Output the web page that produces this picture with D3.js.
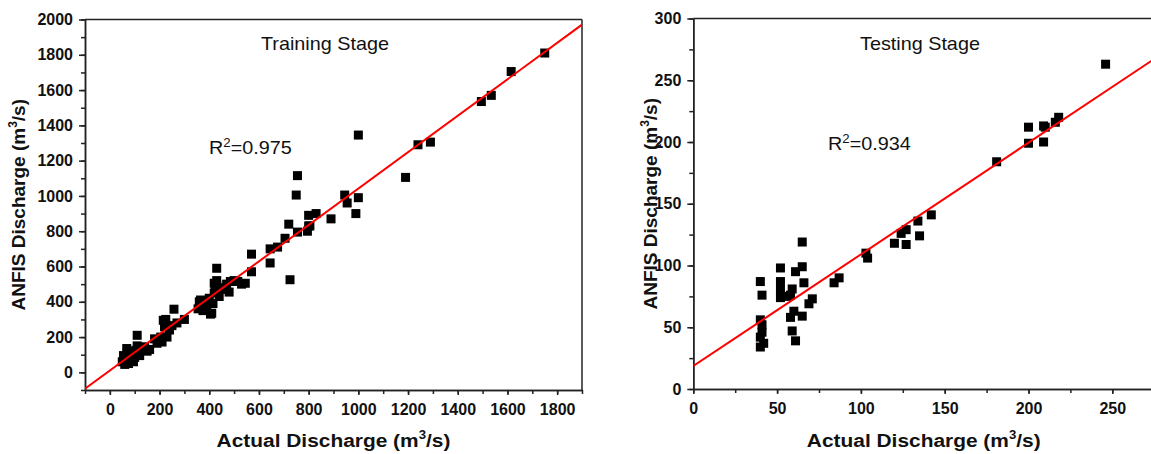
<!DOCTYPE html>
<html lang="en">
<head>
<meta charset="UTF-8">
<title>ANFIS Discharge - Training and Testing</title>
<script src="https://d3js.org/d3.v7.min.js"></script>
<style>
  body { margin: 0; background: #fff; }
  svg text { font-family: Arial, "Liberation Sans", sans-serif; fill: #111; }
</style>
</head>
<body>
<div class="canvas"></div>
<script>
// [actual, ANFIS] pairs
const trainingPoints = [
  [50, 60], [55, 95], [60, 45], [65, 80], [68, 135], [70, 110], [75, 50], [80, 70],
  [85, 100], [90, 120], [95, 60], [100, 85], [105, 125], [110, 210], [110, 150],
  [120, 95], [130, 140], [140, 145], [150, 120], [160, 130],
  [180, 190], [190, 165], [200, 180], [205, 200], [210, 172], [215, 295], [220, 258],
  [225, 300], [230, 200], [240, 240], [250, 265], [258, 358], [270, 280], [300, 300],
  [355, 360], [360, 400], [365, 410], [375, 350], [390, 380], [400, 420], [405, 330],
  [410, 335], [415, 390], [420, 450], [420, 505], [425, 470], [430, 590], [430, 520],
  [430, 495], [440, 430], [450, 470], [460, 480], [470, 500], [480, 455], [485, 515],
  [500, 520], [515, 515], [530, 500], [545, 505],
  [570, 670], [570, 570], [645, 620], [645, 700], [675, 710], [705, 760], [720, 840],
  [725, 525], [750, 1005], [755, 1115], [755, 795], [795, 800], [800, 830], [800, 890],
  [805, 830], [830, 900], [890, 870], [945, 1005], [955, 960], [990, 900], [1000, 990],
  [1000, 1345],
  [1190, 1105], [1240, 1290], [1290, 1305], [1495, 1535], [1535, 1570], [1615, 1705],
  [1750, 1810]
];

const testingPoints = [
  [40, 87], [41, 76], [40, 56], [41, 52], [41, 46], [40, 42], [42, 37], [40, 34],
  [52, 98], [52, 87], [52, 80], [52, 74], [56, 75], [58, 76], [59, 81], [61, 95],
  [65, 119], [65, 99], [66, 86], [60, 63], [58, 58], [65, 59], [59, 47], [61, 39],
  [69, 69], [71, 73], [84, 86], [87, 90], [103, 110], [104, 106],
  [120, 118], [124, 126], [127, 117], [127, 129], [134, 136], [135, 124], [142, 141],
  [181, 184], [200, 199], [200, 212], [209, 200], [209, 213], [210, 212], [216, 216],
  [218, 220], [246, 263]
];

// fitted lines: ANFIS = slope * actual + intercept
const trainingFit = { slope: 1.032, intercept: 10 };
const testingFit = { slope: 0.904, intercept: 18.6 };

const trainingXTicks = [0, 200, 400, 600, 800, 1000, 1200, 1400, 1600, 1800];
const trainingYTicks = [0, 200, 400, 600, 800, 1000, 1200, 1400, 1600, 1800, 2000];
const testingXTicks = [0, 50, 100, 150, 200, 250];
const testingYTicks = [0, 50, 100, 150, 200, 250, 300];

const svg = d3.select(".canvas")
  .append("svg")
  .attr("width", 1151)
  .attr("height", 454);

function drawPanel(opts) {
  const x = d3.scaleLinear().domain(opts.xDomain).range([opts.left, opts.right]);
  const y = d3.scaleLinear().domain(opts.yDomain).range([opts.bottom, opts.top]);
  const g = svg.append("g");

  // minor ticks
  const xAxisMinor = d3.axisBottom(x).tickValues(opts.xMinor).tickSize(4).tickFormat("").tickSizeOuter(0);
  const yAxisMinor = d3.axisLeft(y).tickValues(opts.yMinor).tickSize(4).tickFormat("").tickSizeOuter(0);
  g.append("g").attr("transform", `translate(0,${opts.bottom})`).call(xAxisMinor);
  g.append("g").attr("transform", `translate(${opts.left},0)`).call(yAxisMinor);

  const xAxis = d3.axisBottom(x).tickValues(opts.xTicks).tickFormat(d3.format("d"))
    .tickSize(5).tickPadding(9).tickSizeOuter(0);
  const yAxis = d3.axisLeft(y).tickValues(opts.yTicks).tickFormat(d3.format("d"))
    .tickSize(6).tickPadding(6).tickSizeOuter(0);
  const xg = g.append("g").attr("transform", `translate(0,${opts.bottom})`).call(xAxis);
  const yg = g.append("g").attr("transform", `translate(${opts.left},0)`).call(yAxis);

  g.selectAll(".domain, .tick line").attr("stroke", "#222").attr("stroke-width", 1.5);
  [xg, yg].forEach(a => a.selectAll("text")
    .attr("font-size", 16)
    .attr("font-weight", "bold")
    .attr("fill", "#111"));

  // frame top and right
  g.append("line")
    .attr("x1", opts.left).attr("x2", opts.right)
    .attr("y1", opts.top).attr("y2", opts.top)
    .attr("stroke", "#222").attr("stroke-width", 1.5);
  g.append("line")
    .attr("x1", opts.right).attr("x2", opts.right)
    .attr("y1", opts.top).attr("y2", opts.bottom)
    .attr("stroke", "#222").attr("stroke-width", 1.5);

  // points
  const size = 9;
  g.selectAll("rect.pt")
    .data(opts.points)
    .enter()
    .append("rect")
    .attr("class", "pt")
    .attr("x", d => x(d[0]) - size / 2)
    .attr("y", d => y(d[1]) - size / 2)
    .attr("width", size)
    .attr("height", size)
    .attr("fill", "#000");

  // regression line, clipped to the plot box
  const clipId = "clip-" + opts.name;
  svg.append("clipPath").attr("id", clipId)
    .append("rect")
    .attr("x", opts.left).attr("y", opts.top)
    .attr("width", opts.right - opts.left)
    .attr("height", opts.bottom - opts.top);
  const fitLine = d3.line()
    .x(d => x(d))
    .y(d => y(opts.fit.slope * d + opts.fit.intercept));
  g.append("path")
    .datum(opts.xDomain)
    .attr("clip-path", `url(#${clipId})`)
    .attr("fill", "none")
    .attr("stroke", "#ff0000")
    .attr("stroke-width", 2)
    .attr("d", fitLine);

  // annotations
  g.append("text")
    .attr("transform", `translate(${opts.titlePos[0]},${opts.titlePos[1]}) scale(1.1,1)`)
    .attr("font-size", 18)
    .text(opts.title);

  const r2 = g.append("text")
    .attr("transform", `translate(${opts.r2Pos[0]},${opts.r2Pos[1]}) scale(1.1,1)`)
    .attr("font-size", 18);
  r2.append("tspan").text("R");
  r2.append("tspan").attr("font-size", 12).attr("dy", -7).text("2");
  r2.append("tspan").attr("dy", 7).text("=" + opts.r2);

  // axis titles
  const xt = g.append("text")
    .attr("transform", `translate(${(opts.left + opts.xTitleRight) / 2},447) scale(1.1,1)`)
    .attr("text-anchor", "middle")
    .attr("font-size", 19)
    .attr("font-weight", "bold");
  xt.append("tspan").text("Actual Discharge (m");
  xt.append("tspan").attr("font-size", 12).attr("dy", -8).text("3");
  xt.append("tspan").attr("dy", 8).text("/s)");

  const yt = g.append("text")
    .attr("transform", `translate(${opts.yTitleX},${(opts.top + opts.bottom) / 2}) rotate(-90)`)
    .attr("text-anchor", "middle")
    .attr("font-size", 19)
    .attr("font-weight", "bold");
  yt.append("tspan").text("ANFIS Discharge (m");
  yt.append("tspan").attr("font-size", 12).attr("dy", -8).text("3");
  yt.append("tspan").attr("dy", 8).text("/s)");
}

drawPanel({
  name: "training",
  points: trainingPoints,
  fit: trainingFit,
  xDomain: [-100, 1900], yDomain: [-100, 2000],
  left: 85, right: 582, top: 19.5, bottom: 390,
  xTicks: trainingXTicks, yTicks: trainingYTicks,
  xMinor: d3.range(-100, 1901, 100), yMinor: d3.range(-100, 2001, 100),
  title: "Training Stage", titlePos: [261, 50],
  r2: "0.975", r2Pos: [209, 154],
  xTitleRight: 582, yTitleX: 25
});

drawPanel({
  name: "testing",
  points: testingPoints,
  fit: testingFit,
  xDomain: [0, 275], yDomain: [0, 300],
  left: 693.3, right: 1154.2, top: 18.5, bottom: 389,
  xTicks: testingXTicks, yTicks: testingYTicks,
  xMinor: d3.range(0, 276, 25), yMinor: d3.range(0, 301, 25),
  title: "Testing Stage", titlePos: [860, 50],
  r2: "0.934", r2Pos: [828, 150],
  xTitleRight: 1154.2, yTitleX: 657
});
</script>
</body>
</html>
